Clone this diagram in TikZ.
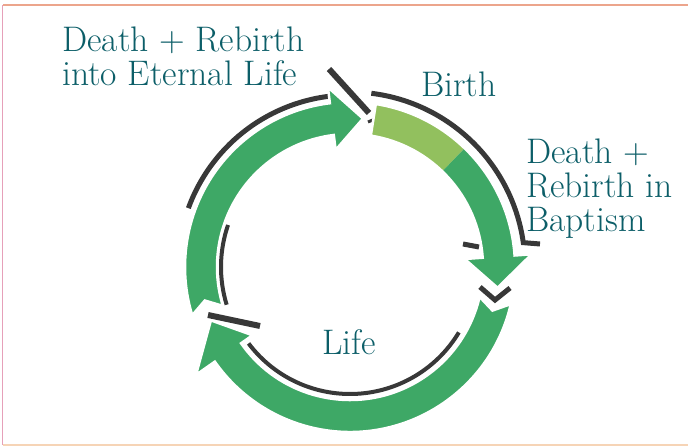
\documentclass[tikz,border=0pt]{standalone}
\usepackage{tikz}
\usepackage{color}
\definecolor{ringgreen}{RGB}{62,168,102}
\definecolor{birthgreen}{RGB}{146,192,94}
\definecolor{shadowgray}{RGB}{56,56,56}
\definecolor{labelteal}{RGB}{12,94,104}
\definecolor{framepink}{RGB}{230,160,185}
\definecolor{frameorange}{RGB}{236,165,140}
\definecolor{framepale}{RGB}{246,212,182}
\tikzset{
    ring/.style={
           fill=ringgreen,
           draw=white, line width=2.5pt,
           line join=miter,
           },
    ringshadow/.style={
           draw=shadowgray,
           line width=5pt,
           },
    cardtext/.style={
           text=labelteal,
           font=\fontsize{35.5}{34}\selectfont,
           inner sep=0pt,
           align=left,
           },
}

\begin{document}
\begin{tikzpicture}[x=1pt,y=1pt]
    \useasboundingbox (0,0) rectangle (688,447);

    % edges of the card
    \draw[frameorange, line width=1.2pt] (3,442) -- (688,442);
    \draw[framepink, line width=1.8pt] (2.5,442) -- (2.5,2);
    \draw[framepale, line width=1.2pt] (3,2) -- (688,2);

    % centre of the ring
    \coordinate (c) at (350,180);

    \begin{scope}[shift={(c)}]
        % dark shadows behind the arrows
        \draw[ringshadow] (160:172) arc[start angle=160, end angle=97, radius=172];
        \draw[ringshadow, line width=6pt] (-21,198) -- (19,154);
        \draw[ringshadow, line width=3pt] (18,145) -- (30,150);
        \draw[ringshadow, line width=4pt] (161:129) arc[start angle=161, end angle=197, radius=129];
        \draw[ringshadow] (83:175) arc[start angle=83, end angle=8, radius=175] -- (190,23);
        \draw[ringshadow] (113,23) -- (129,20);
        \draw[ringshadow] (130,-20) -- (145,-33) -- (160,-21);
        \draw[ringshadow, line width=4pt] (217:127) arc[start angle=217, end angle=329, radius=127];
        \draw[ringshadow, line width=6pt] (-142,-48) -- (-90,-59);

        % arrow up to eternal life
        \filldraw[ring] (197:165) arc[start angle=197, end angle=97, radius=165]
            -- (97:181) -- (85:149) -- (97:118) -- (97:133)
            arc[start angle=97, end angle=197, radius=133] -- (193:149) -- cycle;

        % arrow from birth down to baptism (light part first)
        \fill[birthgreen] (81:165) arc[start angle=81, end angle=46, radius=165]
            -- (46:133) arc[start angle=46, end angle=81, radius=133] -- cycle;
        \fill[ringgreen] (46:165) arc[start angle=46, end angle=4, radius=165]
            -- (4:182) -- (-8:149) -- (4:115) -- (4:133)
            arc[start angle=4, end angle=46, radius=133] -- cycle;
        \draw[white, line width=2.5pt, line join=miter] (81:165) arc[start angle=81, end angle=4, radius=165]
            -- (4:182) -- (-8:149) -- (4:115) -- (4:133)
            arc[start angle=4, end angle=81, radius=133] -- cycle;

        % arrow round the bottom, through life
        \filldraw[ring] (347:165) arc[start angle=347, end angle=215, radius=165]
            -- (215:188) -- (201:149) -- (215:119) -- (215:133)
            arc[start angle=215, end angle=347, radius=133] -- (343:149) -- cycle;
    \end{scope}

    % labels round the ring
    \node[cardtext, anchor=north west] (eternal) at (62,420) {Death + Rebirth\\into Eternal Life};
    \node[cardtext, anchor=base west] (birth) at (421,350) {Birth};
    \node[cardtext, anchor=north west] (baptism) at (526,308) {Death +\\Rebirth in\\Baptism};
    \node[cardtext, anchor=base west] (life) at (322,92) {Life};
\end{tikzpicture}
\end{document}
